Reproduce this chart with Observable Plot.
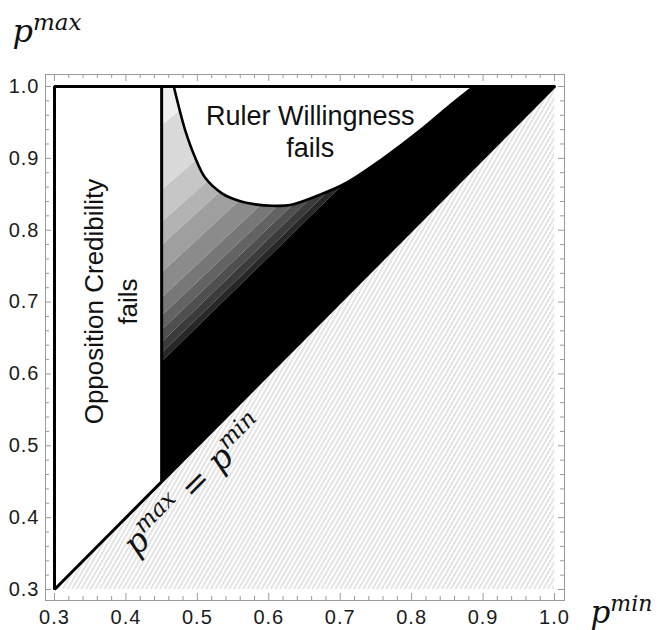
<!DOCTYPE html>
<html><head><meta charset="utf-8">
<script src="https://cdn.jsdelivr.net/npm/d3@7"></script>
<script src="https://cdn.jsdelivr.net/npm/@observablehq/plot@0.6"></script>
<style>body{margin:0;background:#fff}</style>
</head><body><div id="chart"></div>
<script>
// ---- data ----
const pRange = [0.3, 1.0];                 // range of p^min and p^max
const oppThreshold = 0.45;                 // Opposition Credibility fails for p^min below this
const majorTicks = [0.3, 0.4, 0.5, 0.6, 0.7, 0.8, 0.9, 1.0];
const tickLabels = ["0.3", "0.4", "0.5", "0.6", "0.7", "0.8", "0.9", "1.0"];
const minorTicks = [0.32, 0.34, 0.36, 0.38, 0.42, 0.44, 0.46, 0.48, 0.52, 0.54, 0.56, 0.58,
  0.62, 0.64, 0.66, 0.68, 0.72, 0.74, 0.76, 0.78, 0.82, 0.84, 0.86, 0.88, 0.92, 0.94, 0.96, 0.98];
// Ruler Willingness boundary
const rulerX = [0.467, 0.475, 0.483, 0.497, 0.511, 0.535, 0.558, 0.581, 0.605, 0.63, 0.668, 0.707, 0.756, 0.812, 0.854, 0.887];
const rulerY = [1.0, 0.968, 0.939, 0.901, 0.873, 0.851, 0.841, 0.836, 0.834, 0.835, 0.848, 0.865, 0.897, 0.939, 0.974, 1.0];
// shading bands: each boundary starts at p^max = bandLeftY[k] on p^min = 0.45 and rises with bandSlope[k]
const bandLeftY = [1.0, 0.945, 0.855, 0.81, 0.778, 0.74, 0.705, 0.68, 0.66, 0.643, 0.628, 0.616];
const bandSlope = [1.0, 0.8, 0.86, 0.89, 0.91, 0.92, 0.93, 0.94, 0.95, 0.96, 0.965, 0.97];
const bandColors = ["#efefef", "#dadada", "#c6c6c6", "#b3b3b3", "#9f9f9f", "#8b8b8b",
  "#777777", "#636363", "#4f4f4f", "#3b3b3b", "#272727", "#000000"];

// ---- layout ----
const chartW = 659, chartH = 630;
const mL = 45, mR = 95, mT = 74, mB = 30;
const W = chartW - mL - mR, H = chartH - mT - mB;
const gray = "#9a9a9a";
const pTop = pRange[1];

// boundary k as a function of p^min; the last (index n) is the diagonal p^max = p^min
const boundary = k => k < bandLeftY.length
  ? (x => bandLeftY[k] + bandSlope[k] * (x - oppThreshold))
  : (x => x);
const hitTop = k => k < bandLeftY.length
  ? oppThreshold + (pTop - bandLeftY[k]) / bandSlope[k]
  : pTop;
const bands = bandColors.map((color, i) => {
  const U = boundary(i), L = boundary(i + 1);
  const xs = [oppThreshold, hitTop(i), hitTop(i + 1)];
  return {color, rows: xs.map(x => ({x, y1: Math.min(L(x), pTop), y2: Math.min(U(x), pTop)}))};
});
const rulerIdx = rulerX.map((_, i) => i);
const tickIdx = majorTicks.map((_, i) => i);
const outline = [[pRange[1], pRange[1]], [pRange[0], pRange[0]], [pRange[0], pRange[1]], [pRange[1], pRange[1]]];

const hatchDefs = () => {
  const defs = d3.create("svg:defs");
  const p = defs.append("pattern").attr("id", "hatch").attr("patternUnits", "userSpaceOnUse")
    .attr("width", 4).attr("height", 4).attr("patternTransform", "rotate(30)");
  p.append("rect").attr("width", 4).attr("height", 4).attr("fill", "white");
  p.append("line").attr("x1", 1).attr("y1", -1).attr("x2", 1).attr("y2", 5)
    .attr("stroke", "#c2c2c2").attr("stroke-width", 0.9);
  return defs.node();
};

const serif = "'DejaVu Serif', serif";
const tickColor = "#1b1b1b";
const svg = Plot.plot({
  width: chartW, height: chartH,
  marginLeft: mL, marginRight: mR, marginTop: mT, marginBottom: mB,
  style: {fontFamily: "'Liberation Sans', Arial, sans-serif", background: "white", color: "#111"},
  x: {domain: [0.2874, 1.014], axis: null},
  y: {domain: [0.2847, 1.0167], axis: null},
  marks: [
    hatchDefs,
    Plot.areaY(pRange, {x: d => d, y1: () => pRange[0], y2: d => d, fill: "url(#hatch)"}),
    ...bands.map(b => Plot.areaY(b.rows, {x: "x", y1: "y1", y2: "y2", fill: b.color})),
    Plot.areaY(rulerIdx, {x: i => rulerX[i], y1: i => rulerY[i], y2: () => pTop, fill: "white", curve: "catmull-rom"}),
    Plot.line(rulerIdx, {x: i => rulerX[i], y: i => rulerY[i], stroke: "black", strokeWidth: 2.6, curve: "catmull-rom"}),
    Plot.line(outline, {x: d => d[0], y: d => d[1], stroke: "black", strokeWidth: 3, strokeLinejoin: "miter"}),
    Plot.ruleX([oppThreshold], {x: d => d, y1: d => d, y2: () => pTop, stroke: "black", strokeWidth: 3}),
    Plot.frame({stroke: gray, strokeWidth: 1}),
    Plot.ruleX(majorTicks, {x: d => d, insetTop: H - 7, stroke: gray}),
    Plot.ruleX(minorTicks, {x: d => d, insetTop: H - 4, stroke: gray}),
    Plot.ruleX(majorTicks, {x: d => d, insetBottom: H - 7, stroke: gray}),
    Plot.ruleX(minorTicks, {x: d => d, insetBottom: H - 4, stroke: gray}),
    Plot.ruleY(majorTicks, {y: d => d, insetRight: W - 6, stroke: gray}),
    Plot.ruleY(minorTicks, {y: d => d, insetRight: W - 4, stroke: gray}),
    Plot.ruleY(majorTicks, {y: d => d, insetLeft: W - 6, stroke: gray}),
    Plot.ruleY(minorTicks, {y: d => d, insetLeft: W - 4, stroke: gray}),
    // tick labels
    Plot.text(tickIdx, {x: i => majorTicks[i], text: i => tickLabels[i], frameAnchor: "bottom", lineAnchor: "top", dy: 9, fontSize: 20, fill: tickColor}),
    Plot.text(tickIdx, {y: i => majorTicks[i], text: i => tickLabels[i], frameAnchor: "left", textAnchor: "end", dx: -6, fontSize: 20, fill: tickColor}),
    // region labels
    Plot.text(["Ruler Willingness\nfails"], {x: () => 0.658, y: () => 0.938, text: d => d, fontSize: 27, lineHeight: 1.16, fill: "#111"}),
    Plot.text(["Opposition Credibility\nfails"], {x: () => 0.377, y: () => 0.7008, text: d => d, rotate: -90, fontSize: 26, lineHeight: 1.31, fill: "#111"}),
    // math labels (superscripts added below)
    Plot.text(["LBL_PMAX"], {frameAnchor: "top-left", dx: -33, dy: -33, text: d => d, textAnchor: "start", fontFamily: serif, fontStyle: "italic", fontSize: 32, fill: "#111"}),
    Plot.text(["LBL_PMIN"], {frameAnchor: "bottom-right", dx: 26, dy: 22, text: d => d, textAnchor: "start", fontFamily: serif, fontStyle: "italic", fontSize: 31, fill: "#111"}),
    Plot.text(["LBL_DIAG"], {x: () => 0.5, y: () => 0.5, dx: 4, dy: 47, rotate: -45, text: d => d, textAnchor: "middle", fontFamily: serif, fontStyle: "italic", fontSize: 33, fill: "#111"})
  ]
});

// wider spacing for tick labels
d3.select(svg).selectAll(`g[fill="${tickColor}"]`).attr("letter-spacing", "1px");

const NS = "http://www.w3.org/2000/svg";
function setSup(el, parts, supSize, shift) {
  el.textContent = "";
  el.removeAttribute("y");
  el.removeAttribute("dy");
  let raised = false;
  for (const [t, sup] of parts) {
    const ts = document.createElementNS(NS, "tspan");
    ts.textContent = t;
    if (sup && !raised) { ts.setAttribute("dy", -shift); raised = true; }
    else if (!sup && raised) { ts.setAttribute("dy", shift); raised = false; }
    if (sup) ts.setAttribute("font-size", supSize);
    el.appendChild(ts);
  }
}
d3.select(svg).selectAll("text").each(function () {
  const t = this.textContent;
  if (t === "LBL_PMAX") setSup(this, [["p", false], ["max", true]], 23, 12);
  else if (t === "LBL_PMIN") setSup(this, [["p", false], ["min", true]], 22, 12);
  else if (t === "LBL_DIAG") setSup(this, [["p", false], ["max", true], [" = p", false], ["min", true]], 23, 12);
});
document.getElementById("chart").appendChild(svg);
</script>
</body></html>
